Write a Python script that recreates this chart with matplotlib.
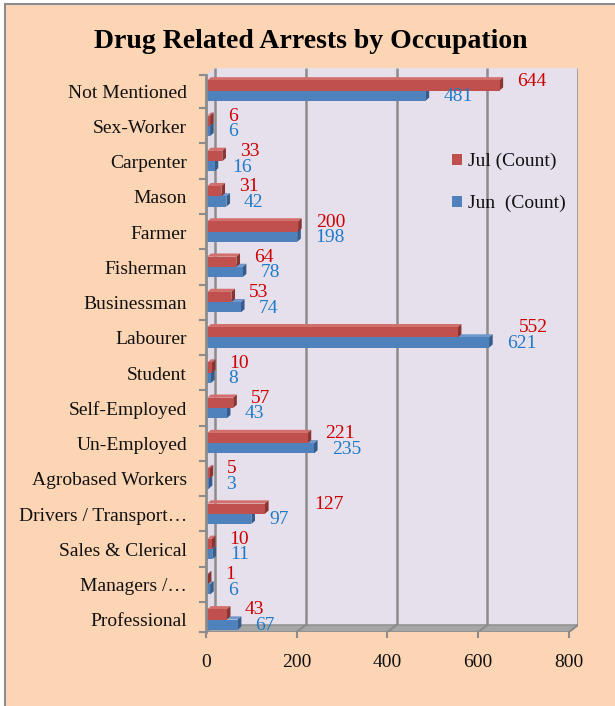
import matplotlib.pyplot as plt
from matplotlib.patches import Rectangle, Polygon

# data (top to bottom as shown)
occupations = ["Not Mentioned", "Sex-Worker", "Carpenter", "Mason", "Farmer",
               "Fisherman", "Businessman", "Labourer", "Student", "Self-Employed",
               "Un-Employed", "Agrobased Workers", "Drivers / Transport\u2026",
               "Sales & Clerical", "Managers /\u2026", "Professional"]
jul_count = [644, 6, 33, 31, 200, 64, 53, 552, 10, 57, 221, 5, 127, 10, 1, 43]
jun_count = [481, 6, 16, 42, 198, 78, 74, 621, 8, 43, 235, 3, 97, 11, 6, 67]
x_ticks = [0, 200, 400, 600, 800]

# a couple of labels that sit further out in the original
label_nudge_jul = {"Labourer": 95, "Drivers / Transport\u2026": 70}

RED, RED_SIDE, RED_TOP = "#C0504D", "#8B3532", "#D26F6C"
BLUE, BLUE_SIDE, BLUE_TOP = "#4F81BD", "#355C8C", "#6E98CC"
RED_TXT, BLUE_TXT = "#CC0000", "#1F7BC8"
TXT = "#111111"
FS = 14

plt.rcParams["font.family"] = ["Liberation Serif", "DejaVu Serif"]

fig = plt.figure(figsize=(6.15, 7.06), dpi=100)
fig.patch.set_facecolor("white")
# chart area background with grey frame on left/top
fig.patches.append(Rectangle((5 / 615, -0.02), 1.05, 1.02 - 4 / 706, transform=fig.transFigure,
                             facecolor="#FCD5B5", edgecolor="#8C8C8C", lw=1.5, zorder=-10))

W, H = 615, 706
ax = fig.add_axes([206 / W, 1 - 632 / H, (578 - 206) / W, (632 - 68) / H])
ax.set_facecolor("none")
ax.axis("off")

n = len(occupations)
ypos = [n - 1 - i for i in range(n)]
ylo, yhi = -0.284, 15.71
xmax = 800
dx, dy = 20, 0.2
ax.set_xlim(0, xmax + dx)
ax.set_ylim(ylo, yhi)

# walls and floor
ax.add_patch(Rectangle((dx, ylo + dy), xmax, yhi - ylo - dy, facecolor="#E6E0EC",
                       edgecolor="none", zorder=0))
ax.add_patch(Polygon([(0, ylo), (dx, ylo + dy), (dx, yhi), (0, yhi - dy)],
                     closed=True, facecolor="#E1DBE8", edgecolor="none", zorder=0))
ax.add_patch(Polygon([(0, ylo), (xmax, ylo), (xmax + dx, ylo + dy), (dx, ylo + dy)],
                     closed=True, facecolor="#A6A6A6", edgecolor="#8C8C8C", lw=1, zorder=1))
grid_c = "#8C8C8C"
for g in x_ticks:
    ax.plot([g + dx, g + dx], [ylo + dy, yhi], color=grid_c, lw=1.8, zorder=1,
            solid_capstyle="butt")
    ax.plot([g, g + dx], [ylo, ylo + dy], color=grid_c, lw=1.5, zorder=1)
    ax.plot([g, g], [ylo, ylo - 0.15], color=grid_c, lw=1.5, zorder=1, clip_on=False)
    ax.text(g, ylo - 0.62, str(g), ha="center", va="top", fontsize=FS, color=TXT)
ax.plot([0, 0], [ylo, yhi - dy], color=grid_c, lw=2, zorder=6, clip_on=False)
for k in range(n + 1):
    yy = k - 0.5 + 0.07
    yy = min(max(yy, ylo), yhi - dy)
    ax.plot([-14, 0], [yy, yy], color=grid_c, lw=1.5, zorder=6, clip_on=False)


def bar3d(y0, length, h, face, side, top):
    x0 = 3
    bdx, bdy = 8, 0.09
    ax.add_patch(Polygon([(x0, y0 + h), (x0 + length, y0 + h),
                          (x0 + length + bdx, y0 + h + bdy), (x0 + bdx, y0 + h + bdy)],
                         closed=True, facecolor=top, edgecolor="none", zorder=3))
    ax.add_patch(Polygon([(x0 + length, y0), (x0 + length + bdx, y0 + bdy),
                          (x0 + length + bdx, y0 + h + bdy), (x0 + length, y0 + h)],
                         closed=True, facecolor=side, edgecolor="none", zorder=3))
    ax.add_patch(Rectangle((x0, y0), length, h, facecolor=face, edgecolor="none",
                           zorder=4))


bh = 0.29
for name, y, vj, vn in zip(occupations, ypos, jul_count, jun_count):
    bar3d(y - 0.22, vn, bh, BLUE, BLUE_SIDE, BLUE_TOP)
    bar3d(y + 0.07, vj, bh, RED, RED_SIDE, RED_TOP)
    ax.text(vj + 42 + label_nudge_jul.get(name, 0), y + 0.34, str(vj), ha="left",
            va="center", fontsize=FS, color=RED_TXT, zorder=7)
    ax.text(vn + 42, y - 0.1, str(vn), ha="left", va="center", fontsize=FS,
            color=BLUE_TXT, zorder=7)
    ax.text(-42, y, name, ha="right", va="center", fontsize=FS, color=TXT)

handles = [Rectangle((0, 0), 1, 1, facecolor=RED), Rectangle((0, 0), 1, 1, facecolor=BLUE)]
leg = ax.legend(handles, ["Jul (Count)", "Jun  (Count)"], loc="upper left",
                bbox_to_anchor=(0.615, 0.88), frameon=False, fontsize=FS,
                handlelength=0.5, handleheight=0.5, handletextpad=0.3, labelspacing=1.25)
for t in leg.get_texts():
    t.set_color(TXT)

fig.text(311 / W, 1 - 42 / H, "Drug Related Arrests by Occupation", ha="center",
         va="center", fontsize=20, fontweight="bold", color="black")

fig.savefig("out.png", dpi=100)
